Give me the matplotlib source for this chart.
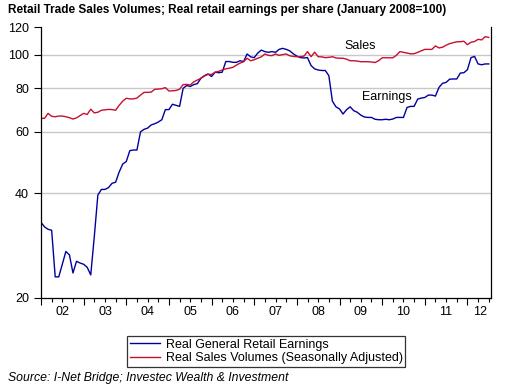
import matplotlib
matplotlib.use("Agg")
import matplotlib.pyplot as plt
import matplotlib.transforms as mtransforms
from matplotlib.ticker import FixedLocator, NullFormatter, NullLocator

# monthly index, Jan 2002 .. Jul 2012 (January 2008 = 100)
earnings = [33, 32, 31.5, 31.3, 23.0, 23.0, 25, 27.2, 26.6, 23.6, 25.5, 25.2,
            25.0, 24.5, 23.3, 30, 39.5, 41, 41, 41.5, 42.7, 43, 46, 48.5,
            49.3, 53, 53.2, 53.2, 60, 61, 61.5, 62.8, 63.3, 64, 65, 69.5,
            69.5, 72, 71.5, 71, 80, 81.5, 81, 82, 82.5, 85.5, 87, 88,
            86.5, 89, 88.7, 89, 95.5, 95.5, 95, 95, 96, 95.5, 100.4, 98.5,
            98, 101, 103, 102, 101.5, 102, 101.5, 103.5, 104.2, 103.5, 102.5, 100.5,
            99, 98, 97.8, 98, 93, 91, 90.3, 90, 90, 87, 73.5, 70.8,
            69.8, 67.5, 69.5, 70.8, 69, 68.3, 67, 66.2, 66, 66, 65.2, 65,
            65, 65.2, 65, 65.3, 66, 66, 66, 70.5, 71, 71, 74.5, 75,
            75.3, 76.5, 76.5, 76, 80.5, 82.7, 83.2, 85, 85.1, 85.1, 88.5, 88.7,
            90.5, 98, 98.8, 94, 93.5, 94, 94]
sales = [65.6, 65.6, 67.8, 66.5, 66.3, 66.6, 66.6, 66.3, 65.9, 65.3, 65.8, 66.8,
         67.8, 67.3, 69.7, 68, 68.3, 69.2, 69.4, 69.6, 69.5, 69.2, 71.5, 73.5,
         74.9, 74.6, 74.6, 75, 76.5, 77.9, 77.9, 78, 79.5, 79.6, 79.8, 80.4,
         78.6, 78.7, 78.9, 79.5, 82, 82.1, 81.8, 83.5, 84.5, 85.5, 86.8, 87.7,
         87.7, 89, 89.5, 90.3, 91, 91.4, 91.9, 93.3, 94.5, 95.4, 97.6, 96,
         96.7, 97.6, 98.5, 100.4, 99.5, 99.3, 100.4, 99.5, 100, 100.4, 99.2, 98.8,
         98.6, 98.6, 99, 102, 98.6, 101.6, 98.6, 98.5, 98, 98.2, 98.6, 97.8,
         97.6, 97.6, 97, 96, 96, 95.8, 95.4, 95.4, 95.4, 95.2, 94.9, 96,
         97.9, 97.9, 97.9, 97.9, 99.5, 102, 101.5, 101, 100.5, 100.6, 101.5, 102.5,
         103.5, 103.5, 103.5, 105.9, 104.5, 105, 106.4, 107.5, 108.2, 108.8, 108.9, 109.2,
         106.8, 108.5, 109, 110.6, 110.2, 112.6, 112]
dates = [2002 + i / 12 for i in range(len(sales))]
years = list(range(2002, 2013))
year_labels = ['02', '03', '04', '05', '06', '07', '08', '09', '10', '11', '12']
yticks = [20, 40, 60, 80, 100, 120]

plt.rcParams['font.family'] = ['Liberation Sans', 'DejaVu Sans']

fig = plt.figure(figsize=(5.13, 3.92), dpi=100)
ax = fig.add_axes([0.0799, 0.2398, 0.877, 0.6913])

ax.plot(dates, earnings, color='#0000a0', lw=1.0, label='Real General Retail Earnings')
ax.plot(dates, sales, color='#c8102e', lw=1.0, label='Real Sales Volumes (Seasonally Adjusted)')

ax.set_yscale('log')
ax.set_ylim(20, 120)
ax.yaxis.set_major_locator(FixedLocator(yticks))
ax.yaxis.set_minor_locator(NullLocator())
ax.set_yticklabels([str(v) for v in yticks])
for v in yticks[1:-1]:
    ax.axhline(v, color='#c8c8c8', lw=1.0, zorder=0)

ax.set_xlim(2002, 2012.55)
ax.xaxis.set_major_locator(FixedLocator(years))
ax.xaxis.set_major_formatter(NullFormatter())
ax.xaxis.set_minor_locator(FixedLocator([y + q / 4 for y in years for q in (1, 2, 3)]))
ax.tick_params(axis='both', which='major', length=5, width=0.8, labelsize=9, color='black')
ax.tick_params(axis='x', which='minor', length=3, width=0.8)

trans = mtransforms.blended_transform_factory(ax.transData, ax.transAxes)
for y, lab in zip(years, year_labels):
    xc = y + 0.5 if y < 2012 else 2012.3
    ax.text(xc, -0.03, lab, transform=trans, ha='center', va='top', fontsize=9)

ax.spines['top'].set_visible(False)
for s in ['left', 'right', 'bottom']:
    ax.spines[s].set_linewidth(0.9)

ax.text(2009.48, 105.5, 'Sales', fontsize=9, ha='center', va='center')
ax.text(2010.12, 75.5, 'Earnings', fontsize=9, ha='center', va='center')

fig.text(0.016, 0.974, 'Retail Trade Sales Volumes; Real retail earnings per share (January 2008=100)',
         fontsize=8.5, fontweight='bold', ha='left', va='center')

leg = fig.legend(loc='upper center', bbox_to_anchor=(0.519, 0.142), fontsize=9,
                 frameon=True, fancybox=False, handlelength=2.4, handletextpad=0.5,
                 borderpad=0.2, labelspacing=0.1, borderaxespad=0)
leg.get_frame().set_edgecolor('black')
leg.get_frame().set_linewidth(0.9)

fig.text(0.016, 0.036, 'Source: I-Net Bridge; Investec Wealth & Investment',
         fontsize=8.8, style='italic', ha='left', va='center')

fig.savefig('out.png', dpi=100)
